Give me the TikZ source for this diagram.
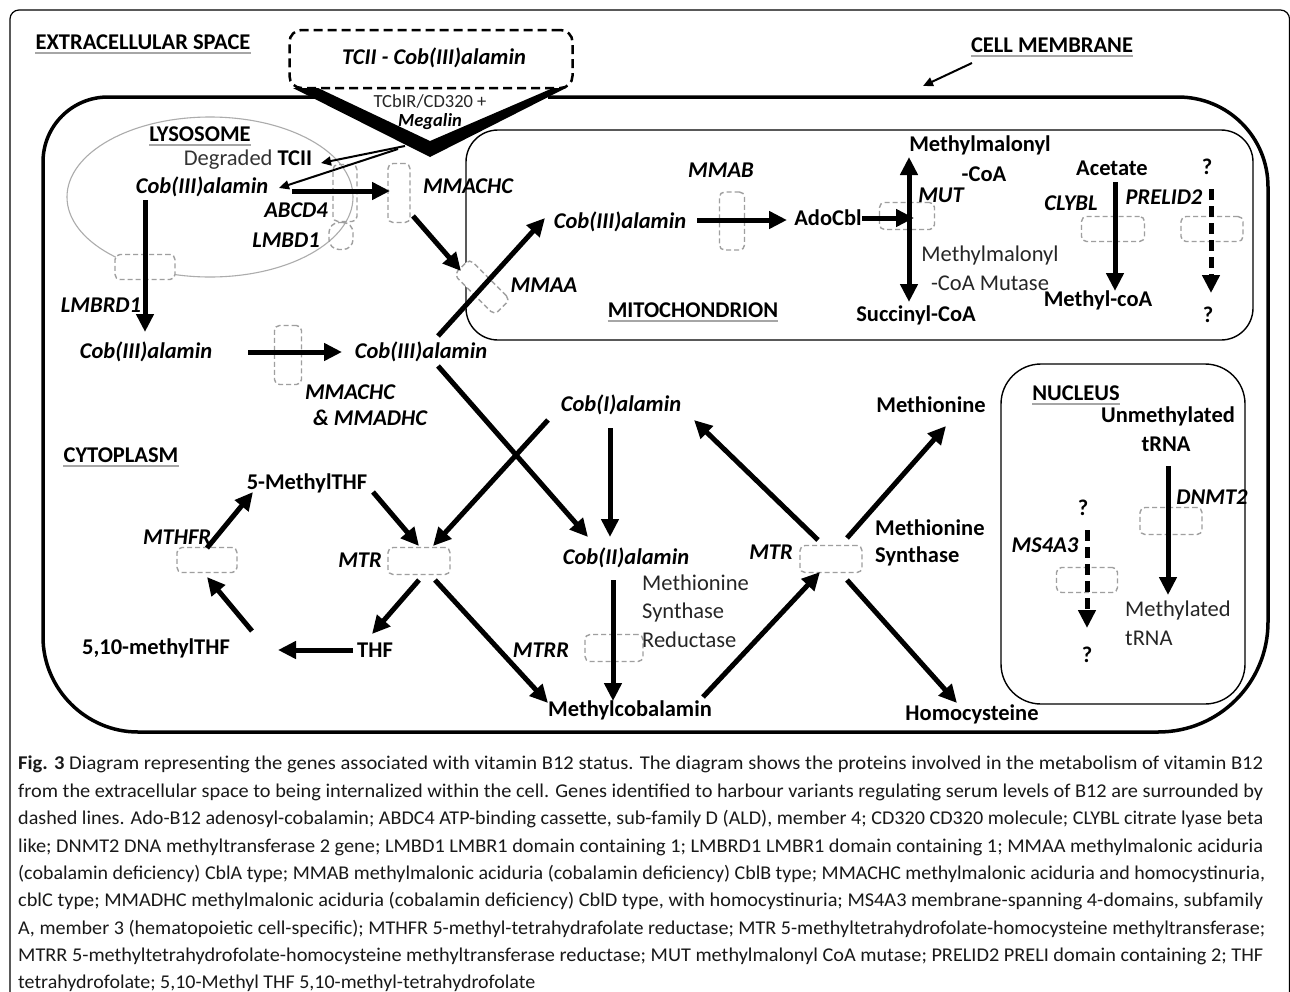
\documentclass[tikz,border=0pt]{standalone}
\usepackage{graphicx}
\usepackage{fontspec}
\setmainfont{Carlito}
\usetikzlibrary{arrows.meta}
\newcommand{\capl}[2]{\resizebox{#1}{\height}{#2}}
\begin{document}
\begin{tikzpicture}[x=1pt,y=-1pt,
  lab/.style={inner sep=0, font=\fontsize{22.5}{26}\selectfont\bfseries},
  gen/.style={inner sep=0, font=\fontsize{22.5}{26}\selectfont\bfseries\itshape},
  reg/.style={inner sep=0, font=\fontsize{22.5}{26}\selectfont, text=black!85},
  uline/.style={draw=gray!70, line width=2.2pt},
  genebox/.style={draw=gray!75, dash pattern=on 5pt off 3pt, line width=1.4pt, rounded corners=5pt, inner sep=0},
  arr/.style={line width=5pt, -{Triangle[length=18pt,width=17pt]}},
  darr/.style={line width=5pt, dash pattern=on 11pt off 6pt, -{Triangle[length=18pt,width=17pt]}},
  tarr/.style={line width=2pt, -{Triangle[length=10pt,width=9pt]}},
  caption/.style={inner sep=0, anchor=west, font=\fontsize{19.5}{22}\selectfont, text=black!90}
]
\useasboundingbox (0,0) rectangle (1290,991);
\clip (0,0) rectangle (1290,991);
\fill[white] (0,0) rectangle (1290,991);
% outer frame
\draw[line width=1.2pt, rounded corners=9pt] (10,10) rectangle (1289.5,1010);

% cell membrane
\draw[line width=3.5pt] (318,97) -- (108,97) .. controls (72,97) and (43,126) .. (43,162)
  -- (43,637) .. controls (43,689) and (86,732) .. (138,732)
  -- (1158,732) .. controls (1219,732) and (1268,683) .. (1268,622)
  -- (1268,187) .. controls (1268,137) and (1228,97) .. (1178,97) -- (548,97);

% lysosome
\draw[gray!65, line width=1.1pt] (210,197) ellipse [x radius=143, y radius=80];
% mitochondrion
\draw[line width=1.4pt, rounded corners=32pt] (466,130) rectangle (1253,340);
% nucleus
\draw[line width=1.4pt, rounded corners=40pt] (1001,364) rectangle (1245,704);

% TCII box and receptor wedge
\node[draw, line width=2.5pt, dash pattern=on 9pt off 5pt, rounded corners=12pt, minimum width=283pt, minimum height=58pt] (tcbox) at (431,59) {};
\fill (293,88) -- (318,88) -- (430,141) -- (553,88) -- (566,88) -- (430,157) -- cycle;
\node[gen] (tcii) at (434,58) {TCII - Cob(III)alamin};
\node[inner sep=0, font=\fontsize{18.5}{21}\selectfont, text=black!85] (tcbir) at (430,101) {TCbIR/CD320 +};
\node[inner sep=0, font=\fontsize{18.5}{21}\selectfont\bfseries\itshape] (megalin) at (430,122) {Megalin};

% gene boxes
\node[genebox, minimum width=24pt, minimum height=57pt] (bABCD4) at (345,193) {};
\node[genebox, rounded corners=10pt, minimum width=24pt, minimum height=27pt] (bLMBD1) at (341,236) {};
\node[genebox, minimum width=22pt, minimum height=59pt] (bMMACHC) at (399,193) {};
\node[genebox, fill=white, rotate=-45, minimum width=57pt, minimum height=22pt] (bMMAA) at (482,287) {};
\node[genebox, minimum width=25pt, minimum height=58pt] (bMMAB) at (732,221) {};
\node[genebox, minimum width=55pt, minimum height=27pt] (bMUT) at (907,216) {};
\node[genebox, minimum width=63pt, minimum height=25pt] (bCLYBL) at (1113,229) {};
\node[genebox, minimum width=62pt, minimum height=25pt] (bPRELID2) at (1212,229) {};
\node[genebox, fill=white, minimum width=60pt, minimum height=25pt] (bLMBRD1) at (145,267) {};
\node[genebox, minimum width=27pt, minimum height=59pt] (bMMADHC) at (288,355) {};
\node[genebox, minimum width=60pt, minimum height=25pt] (bMTHFR) at (207,560) {};
\node[genebox, minimum width=62pt, minimum height=27pt] (bMTRl) at (419,561) {};
\node[genebox, minimum width=58pt, minimum height=27pt] (bMTRR) at (614,648) {};
\node[genebox, minimum width=62pt, minimum height=27pt] (bMTRr) at (831,559) {};
\node[genebox, minimum width=62pt, minimum height=27pt] (bDNMT2) at (1171,521) {};
\node[genebox, minimum width=61pt, minimum height=25pt] (bMS4A3) at (1087,580) {};

% headings
\node[lab] (hext) at (143,42) {EXTRACELLULAR SPACE};
\node[lab] (hmem) at (1052,45) {CELL MEMBRANE};
\node[lab] (hlys) at (200,134) {LYSOSOME};
\node[lab] (hmito) at (693,310) {MITOCHONDRION};
\node[lab] (hcyto) at (121,455) {CYTOPLASM};
\node[lab] (hnuc) at (1076,393) {NUCLEUS};
\foreach \h in {hext,hmem,hlys,hmito,hcyto,hnuc}
  \draw[uline] ([yshift=-3pt]\h.south west) -- ([yshift=-3pt]\h.south east);

% lysosome texts
\node[inner sep=0, font=\fontsize{22.5}{26}\selectfont] (degr) at (248,160) {\textcolor{black!80}{Degraded} \textbf{TCII}};
\node[gen] (cobL) at (202,187) {Cob(III)alamin};
\node[gen] (tABCD4) at (296,210) {ABCD4};
\node[gen] (tLMBD1) at (286,240) {LMBD1};
\node[gen] (tMMACHC) at (468,186) {MMACHC};
\node[gen] (tMMAA) at (544,285) {MMAA};

% mitochondrion texts
\node[gen] (cobM) at (620,222) {Cob(III)alamin};
\node[gen] (tMMAB) at (721,170) {MMAB};
\node[lab] (adocbl) at (828,218) {AdoCbl};
\node[lab] (mmcoa1) at (980,145) {Methylmalonyl};
\node[lab] (mmcoa2) at (984,174) {-CoA};
\node[gen] (tMUT) at (941,195) {MUT};
\node[reg] (mcm1) at (990,255) {Methylmalonyl};
\node[reg] (mcm2) at (990,283) {-CoA Mutase};
\node[lab] (succ) at (916,315) {Succinyl-CoA};
\node[lab] (acet) at (1112,168) {Acetate};
\node[gen] (tCLYBL) at (1071,203) {CLYBL};
\node[lab] (mecoa) at (1098,300) {Methyl-coA};
\node[gen] (tPRELID2) at (1164,197) {PRELID2};
\node[lab] (q1) at (1207,167) {?};
\node[lab] (q2) at (1208,315) {?};

% cytoplasm texts
\node[gen] (tLMBRD1) at (101,305) {LMBRD1};
\node[gen] (cobC1) at (146,352) {Cob(III)alamin};
\node[gen] (cobC2) at (421,352) {Cob(III)alamin};
\node[gen] (tMMACHC2) at (350,392) {MMACHC};
\node[gen] (tMMADHC) at (370,418) {\& MMADHC};
\node[lab] (mthf) at (307,483) {5-MethylTHF};
\node[gen] (tMTHFR) at (177,537) {MTHFR};
\node[lab] (mthf510) at (156,648) {5,10-methylTHF};
\node[lab] (thf) at (375,650) {THF};
\node[gen] (tMTRl) at (360,560) {MTR};
\node[gen] (cobI) at (621,405) {Cob(I)alamin};
\node[gen] (cobII) at (626,558) {Cob(II)alamin};
\node[reg, anchor=west] (msr1) at (642,583) {Methionine};
\node[reg, anchor=west] (msr2) at (642,612) {Synthase};
\node[reg, anchor=west] (msr3) at (642,640) {Reductase};
\node[gen] (tMTRR) at (541,650) {MTRR};
\node[lab] (mecbl) at (630,710) {Methylcobalamin};
\node[gen] (tMTRr) at (771,552) {MTR};
\node[lab] (met) at (931,405) {Methionine};
\node[lab, anchor=west] (ms1) at (875,528) {Methionine};
\node[lab, anchor=west] (ms2) at (875,556) {Synthase};
\node[lab] (hcy) at (972,714) {Homocysteine};

% nucleus texts
\node[lab] (unm1) at (1168,416) {Unmethylated};
\node[lab] (unm2) at (1166,444) {tRNA};
\node[gen] (tDNMT2) at (1212,497) {DNMT2};
\node[reg, anchor=west] (mt1) at (1125,610) {Methylated};
\node[reg, anchor=west] (mt2) at (1125,638) {tRNA};
\node[lab] (q3) at (1083,508) {?};
\node[lab] (q4) at (1087,655) {?};
\node[gen] (tMS4A3) at (1045,545) {MS4A3};

% arrow end points
\coordinate (c1) at (972,63);   \coordinate (c2) at (923,86);
\coordinate (w1) at (405,146);  \coordinate (w1e) at (321,163);
\coordinate (w2) at (398,149);  \coordinate (w2e) at (279,188);
\coordinate (a1) at (292,191);  \coordinate (a1e) at (390,191);
\coordinate (a2) at (413,216);  \coordinate (a2e) at (461,271);
\coordinate (a3) at (145,200);  \coordinate (a3e) at (145,332);
\coordinate (a4) at (248,352);  \coordinate (a4e) at (342,352);
\coordinate (a5) at (438,336);  \coordinate (a5e) at (545,218);
\coordinate (a6) at (438,366);  \coordinate (a6e) at (588,537);
\coordinate (a7) at (697,220);  \coordinate (a7e) at (787,220);
\coordinate (a8) at (862,218);  \coordinate (a8e) at (914,218);
\coordinate (a9) at (909,157);  \coordinate (a9e) at (909,302);
\coordinate (a10) at (1115,182); \coordinate (a10e) at (1115,291);
\coordinate (a11) at (1211,189); \coordinate (a11e) at (1211,293);
\coordinate (a12) at (373,492); \coordinate (a12e) at (419,546);
\coordinate (a13) at (548,420); \coordinate (a13e) at (433,546);
\coordinate (a14) at (419,580); \coordinate (a14e) at (372,634);
\coordinate (a15) at (435,580); \coordinate (a15e) at (548,703);
\coordinate (a16) at (353,650); \coordinate (a16e) at (278,650);
\coordinate (a17) at (252,631); \coordinate (a17e) at (207,577);
\coordinate (a18) at (207,548); \coordinate (a18e) at (253,492);
\coordinate (a19) at (610,428); \coordinate (a19e) at (610,537);
\coordinate (a20) at (613,580); \coordinate (a20e) at (613,701);
\coordinate (a21) at (703,697); \coordinate (a21e) at (820,572);
\coordinate (a22) at (818,540); \coordinate (a22e) at (694,420);
\coordinate (a23) at (847,538); \coordinate (a23e) at (946,426);
\coordinate (a24) at (847,580); \coordinate (a24e) at (957,703);
\coordinate (a25) at (1168,466); \coordinate (a25e) at (1168,595);
\coordinate (a26) at (1087,530); \coordinate (a26e) at (1087,628);

% arrows
\draw[tarr] (c1) -- (c2);
\draw[tarr] (w1) -- (w1e);
\draw[tarr] (w2) -- (w2e);
\foreach \s in {a1,a2,a3,a4,a5,a6,a7,a8,a10,a12,a13,a14,a15,a16,a17,a18,a19,a20,a21,a22,a23,a24,a25}
  \draw[arr] (\s) -- (\s e);
\draw[line width=5pt, {Triangle[length=18pt,width=17pt]}-{Triangle[length=18pt,width=17pt]}] (a9) -- (a9e);
\draw[darr] (a11) -- (a11e);
\draw[darr] (a26) -- (a26e);

% caption
\node[caption] (cap1) at (18,764) {\capl{1245pt}{\textbf{Fig. 3} Diagram representing the genes associated with vitamin B12 status. The diagram shows the proteins involved in the metabolism of vitamin B12}};
\node[caption] (cap2) at (18,792) {\capl{1245pt}{from the extracellular space to being internalized within the cell. Genes identified to harbour variants regulating serum levels of B12 are surrounded by}};
\node[caption] (cap3) at (18,819) {\capl{1245pt}{dashed lines. Ado-B12 adenosyl-cobalamin; ABDC4 ATP-binding cassette, sub-family D (ALD), member 4; CD320 CD320 molecule; CLYBL citrate lyase beta}};
\node[caption] (cap4) at (18,847) {\capl{1245pt}{like; DNMT2 DNA methyltransferase 2 gene; LMBD1 LMBR1 domain containing 1; LMBRD1 LMBR1 domain containing 1; MMAA methylmalonic aciduria}};
\node[caption] (cap5) at (18,874) {\capl{1247pt}{(cobalamin deficiency) CblA type; MMAB methylmalonic aciduria (cobalamin deficiency) CblB type; MMACHC methylmalonic aciduria and homocystinuria,}};
\node[caption] (cap6) at (18,901) {\capl{1245pt}{cblC type; MMADHC methylmalonic aciduria (cobalamin deficiency) CblD type, with homocystinuria; MS4A3 membrane-spanning 4-domains, subfamily}};
\node[caption] (cap7) at (18,929) {\capl{1247pt}{A, member 3 (hematopoietic cell-specific); MTHFR 5-methyl-tetrahydrafolate reductase; MTR 5-methyltetrahydrofolate-homocysteine methyltransferase;}};
\node[caption] (cap8) at (18,956) {\capl{1245pt}{MTRR 5-methyltetrahydrofolate-homocysteine methyltransferase reductase; MUT methylmalonyl CoA mutase; PRELID2 PRELI domain containing 2; THF}};
\node[caption] (cap9) at (18,983) {\capl{517pt}{tetrahydrofolate; 5,10-Methyl THF 5,10-methyl-tetrahydrofolate}};
\end{tikzpicture}
\end{document}
